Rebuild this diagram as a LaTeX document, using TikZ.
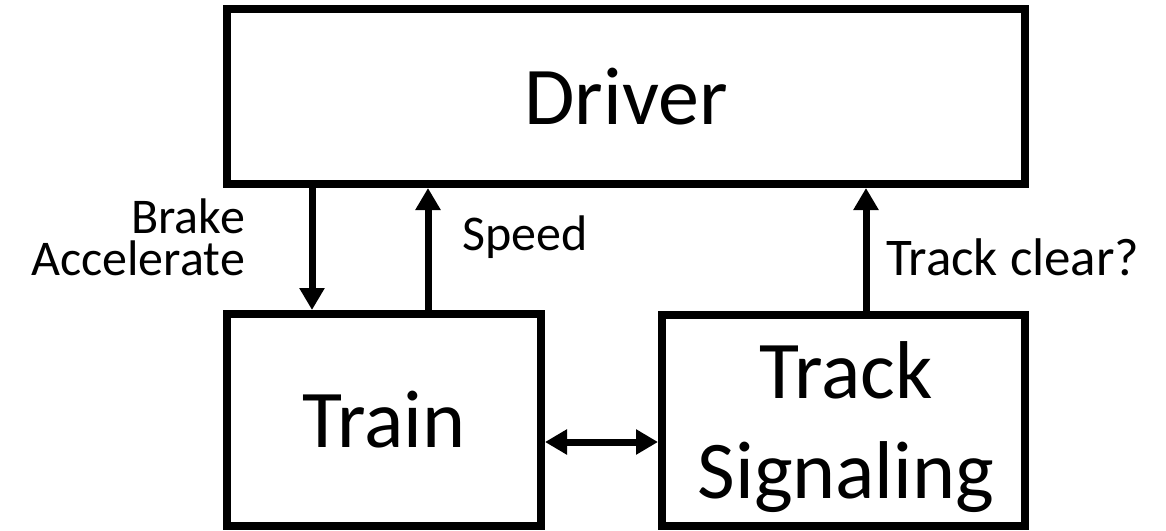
\documentclass[tikz,border=0pt]{standalone}
\usepackage{fontspec}
\setmainfont{Carlito}
\usetikzlibrary{arrows.meta}
\tikzset{
  block/.style={draw=black, line width=8pt, fill=white, inner sep=0pt, align=center},
  bigtext/.style={font=\fontsize{82}{100}\selectfont},
  lbl/.style={inner sep=0pt, font=\fontsize{50}{42}\selectfont},
  flow/.style={line width=7pt, -{Triangle[length=22pt,width=24pt]}},
  twoway/.style={line width=7pt, {Triangle[length=22pt,width=24pt]}-{Triangle[length=22pt,width=24pt]}}
}
\begin{document}
\begin{tikzpicture}[x=1pt, y=-1pt]
  \useasboundingbox (0,0) rectangle (1166,530);

  % the three blocks
  \node[block, bigtext, minimum width=798pt, minimum height=175pt] (driver) at (626,96.5) {Driver};
  \node[block, bigtext, minimum width=314pt, minimum height=212pt] (train) at (384,420) {Train};
  \node[block, minimum width=363pt, minimum height=211pt] (track) at (843.5,420.5) {};
  \node[bigtext, inner sep=0pt, align=center, anchor=base] (tracktext) at (846,498) {Track\\Signaling};

  % columns of the vertical connectors
  \coordinate (cmd) at (312,0);
  \coordinate (spd) at (428,0);
  \coordinate (clr) at (866,0);

  \draw[flow] (driver.south -| cmd) -- (train.north -| cmd);
  \draw[flow] (train.north -| spd) -- (driver.south -| spd);
  \draw[flow] (track.north -| clr) -- (driver.south -| clr);
  \draw[twoway] (train.east |- 0,442) -- (track.west |- 0,442);

  % connector labels
  \node[lbl, align=right, anchor=base east] (cmdtext) at (245,275) {Brake\\Accelerate};
  \node[lbl, anchor=base west] (speed) at (462,250) {Speed};
  \node[lbl, anchor=base west, font=\fontsize{53}{60}\selectfont] (clear) at (886,275) {Track clear?};
\end{tikzpicture}
\end{document}
